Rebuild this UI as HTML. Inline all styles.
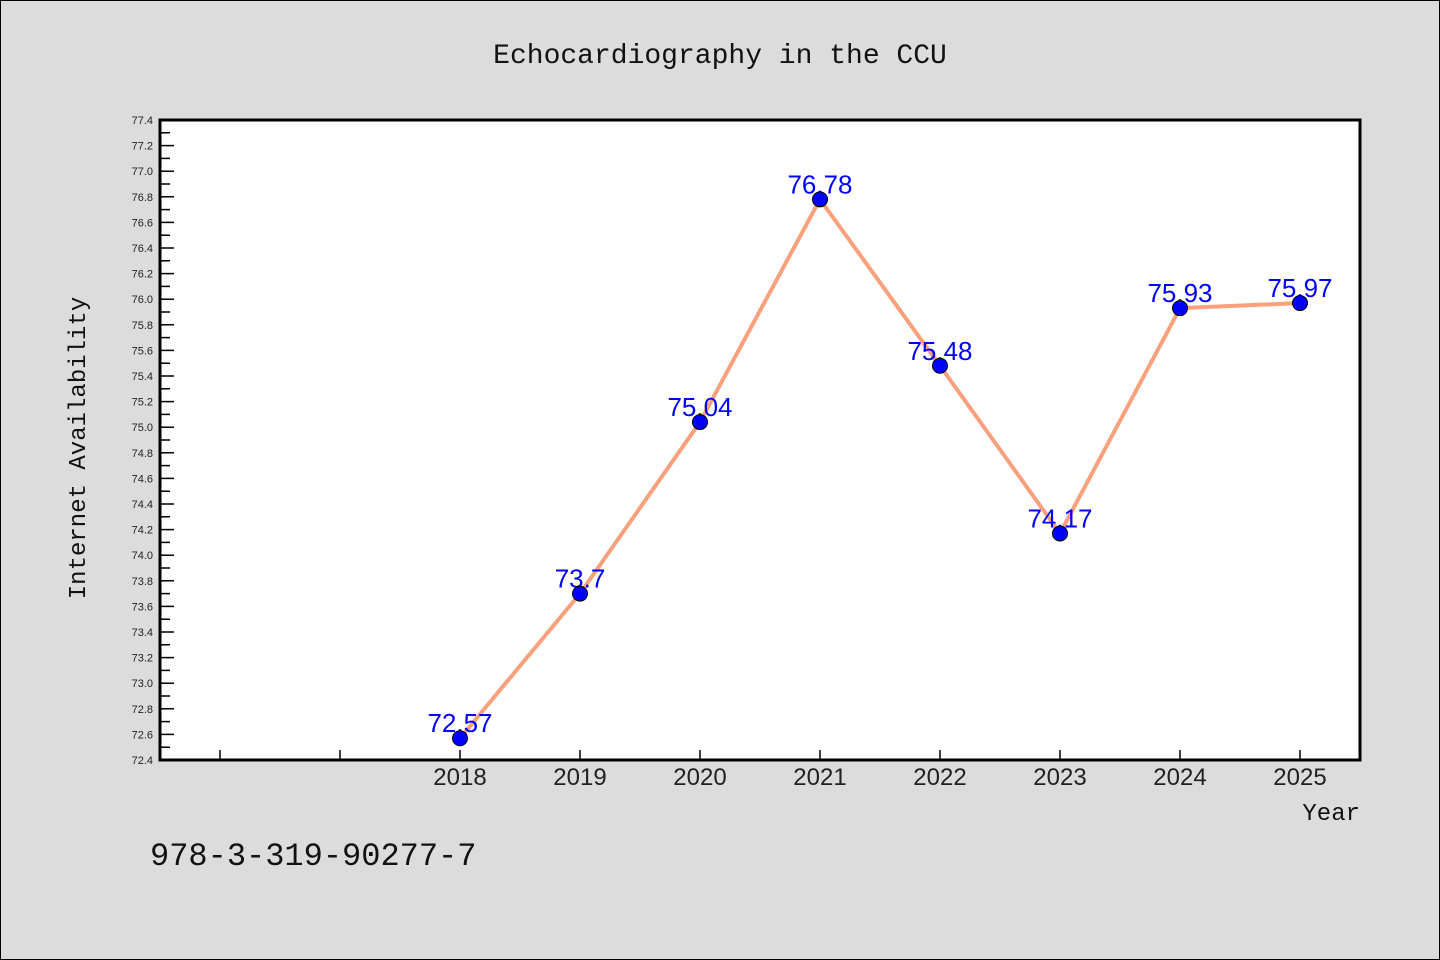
<!DOCTYPE html>
<html><head><meta charset="utf-8"><style>
html,body{margin:0;padding:0;background:#dcdcdc;}
svg{display:block;font-family:"Liberation Sans","DejaVu Sans",sans-serif;}
</style></head><body>
<svg id="chart" width="1440" height="960">
<rect x="0.5" y="0.5" width="1439" height="959" fill="#dcdcdc" stroke="#000" stroke-width="1"/>
<text x="720" y="63" text-anchor="middle" font-size="28" font-family="Liberation Mono, DejaVu Sans Mono, monospace" fill="#111">Echocardiography in the CCU</text>
<rect x="160" y="120" width="1200" height="640" fill="#fff"/>
<g id="yaxis"></g>
<g id="xaxis"></g>
<g id="series"></g>
<rect x="160" y="120" width="1200" height="640" fill="none" stroke="#000" stroke-width="3"/>
<text transform="translate(85,448) rotate(-90)" text-anchor="middle" font-size="24" font-family="Liberation Mono, DejaVu Sans Mono, monospace" fill="#111">Internet Availability</text>
<text x="1360" y="820" text-anchor="end" font-size="24" font-family="Liberation Mono, DejaVu Sans Mono, monospace" fill="#111">Year</text>
<text x="150" y="865" font-size="32" font-family="Liberation Mono, DejaVu Sans Mono, monospace" fill="#111">978-3-319-90277-7</text>
</svg>
<script>
const years = [2018,2019,2020,2021,2022,2023,2024,2025];
const values = [72.57,73.7,75.04,76.78,75.48,74.17,75.93,75.97];
const labels = ["72.57","73.7","75.04","76.78","75.48","74.17","75.93","75.97"];
const yMin = 72.4, yMax = 77.4;
const xMin = 2015.5, xMax = 2025.5;
const L=160,R=1360,T=120,B=760;
const NS="http://www.w3.org/2000/svg";
function sx(v){return L+(v-xMin)/(xMax-xMin)*(R-L);}
function sy(v){return B-(v-yMin)/(yMax-yMin)*(B-T);}
function mk(tag,attrs,parent){const e=document.createElementNS(NS,tag);for(const k in attrs)e.setAttribute(k,attrs[k]);parent.appendChild(e);return e;}
const ya=document.getElementById('yaxis');
for(let i=0;i<=50;i++){
  const v=yMin+i*0.1, y=sy(v), major=i%2===0;
  const t=mk('line',{x1:L,x2:L+(major?14:10),y1:y,y2:y,stroke:'#000','stroke-width':1.5},ya);
  
  
  if(major){
    const tx=mk('text',{x:153,y:y+4,'text-anchor':'end','font-size':11,fill:'#222'},ya);
    tx.textContent=v.toFixed(1);
    
    
  }
}
const xa=document.getElementById('xaxis');
for(let yr=2016;yr<=2025;yr++){
  const x=sx(yr);
  const t=mk('line',{x1:x,x2:x,y1:B,y2:B-10,stroke:'#000','stroke-width':1.5},xa);
  
  
}
years.forEach(yr=>{
  const tx=mk('text',{x:sx(yr),y:785,'text-anchor':'middle','font-size':24,fill:'#222'},xa);
  tx.textContent=yr;
  
  
});
const s=document.getElementById('series');
const pts=years.map((yr,i)=>sx(yr)+','+sy(values[i])).join(' ');
const line=mk('polyline',{points:pts,fill:'none',stroke:'#f9a07c','stroke-width':4,'stroke-linejoin':'round'},s);


years.forEach((yr,i)=>{
  const tx=mk('text',{x:sx(yr),y:sy(values[i])-6,'text-anchor':'middle','font-size':26,fill:'#0000ff'},s);
  tx.textContent=labels[i];
  
  
});
years.forEach((yr,i)=>{
  const c=mk('circle',{cx:sx(yr),cy:sy(values[i]),r:7.5,fill:'#0000ff',stroke:'#000','stroke-width':1},s);
  
  
});
</script>
</body></html>
